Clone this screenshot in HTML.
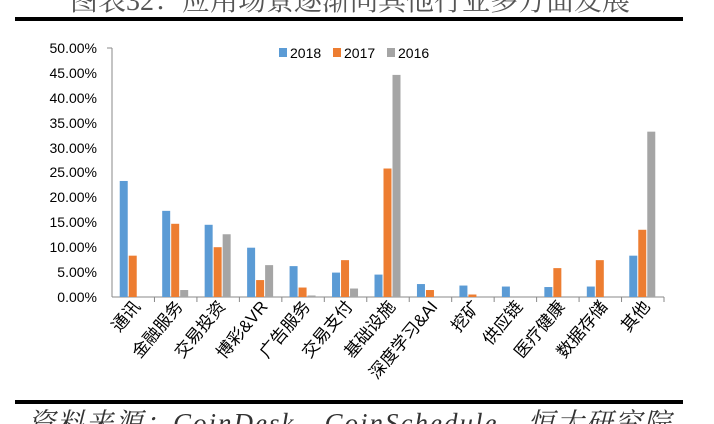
<!DOCTYPE html>
<html><head><meta charset="utf-8"><style>
html,body{margin:0;padding:0;background:#fff;width:714px;height:424px;overflow:hidden}
</style></head><body>
<svg width="714" height="424" xmlns="http://www.w3.org/2000/svg" font-family="Liberation Sans, Noto Sans CJK SC, sans-serif">
<text x="350" y="10" font-size="28" text-anchor="middle" fill="#555" font-family="Liberation Serif, Noto Serif CJK SC, serif">图表32：应用场景逐渐向其他行业多方面发展</text>
<rect x="15" y="17" width="668" height="4" fill="#000"/>
<rect x="15" y="400" width="668" height="4" fill="#000"/>
<text x="28" y="432" font-size="27" font-style="italic" fill="#333" letter-spacing="2" font-family="Liberation Serif, Noto Serif CJK SC, serif">资料来源：CoinDesk、CoinSchedule、恒大研究院</text>
<g font-size="14" fill="#000" text-anchor="end">
<text x="97" y="53">50.00%</text><text x="97" y="78">45.00%</text><text x="97" y="103">40.00%</text><text x="97" y="128">35.00%</text><text x="97" y="153">30.00%</text><text x="97" y="177">25.00%</text><text x="97" y="202">20.00%</text><text x="97" y="227">15.00%</text><text x="97" y="252">10.00%</text><text x="97" y="277">5.00%</text><text x="97" y="302">0.00%</text>
</g>
<g stroke="#888" stroke-width="1">
<line x1="112" y1="48" x2="112" y2="297"/><line x1="112" y1="297" x2="664" y2="297"/>
<line x1="107" y1="48" x2="112" y2="48"/>
</g>
<g id="bars"></g>
<g id="labels" font-size="17" fill="#000" text-anchor="end"></g>
<g font-size="14">
<rect x="279" y="48" width="8" height="9" fill="#5B9BD5"/><text x="290" y="58">2018</text>
<rect x="333" y="48" width="8" height="9" fill="#ED7D31"/><text x="344" y="58">2017</text>
<rect x="387" y="48" width="8" height="9" fill="#A5A5A5"/><text x="398" y="58">2016</text>
</g>
</svg>
<script>
var d=[["通讯",23.3,8.3,0],["金融服务",17.3,14.7,1.4],["交易投资",14.5,10,12.6],["博彩&VR",9.9,3.4,6.4],["广告服务",6.2,1.9,0.3],["交易支付",4.9,7.4,1.7],["基础设施",4.5,25.8,44.6],["深度学习&AI",2.6,1.4,0],["挖矿",2.3,0.5,0],["供应链",2.1,0,0],["医疗健康",2.0,5.8,0],["数据存储",2.1,7.4,0],["其他",8.3,13.5,33.2]];
var c=["#5B9BD5","#ED7D31","#A5A5A5"],b=document.getElementById("bars"),l=document.getElementById("labels");
var w=552/13,s="";
d.forEach(function(r,i){var cx=112+w*(i+0.5);
s+='<line x1="'+(112+w*(i+1))+'" y1="297" x2="'+(112+w*(i+1))+'" y2="302" stroke="#888"/>';
for(var k=0;k<3;k++){var h=r[k+1]*4.98;if(h>0)s+='<rect x="'+(cx-13.5+k*9)+'" y="'+(297-h)+'" width="8" height="'+h+'" fill="'+c[k]+'"/>';}
l.innerHTML+='<text transform="translate('+(cx+8)+',307) rotate(-50)">'+r[0].replace("&","&amp;")+'</text>';});
b.innerHTML=s;
</script>
</body></html>
